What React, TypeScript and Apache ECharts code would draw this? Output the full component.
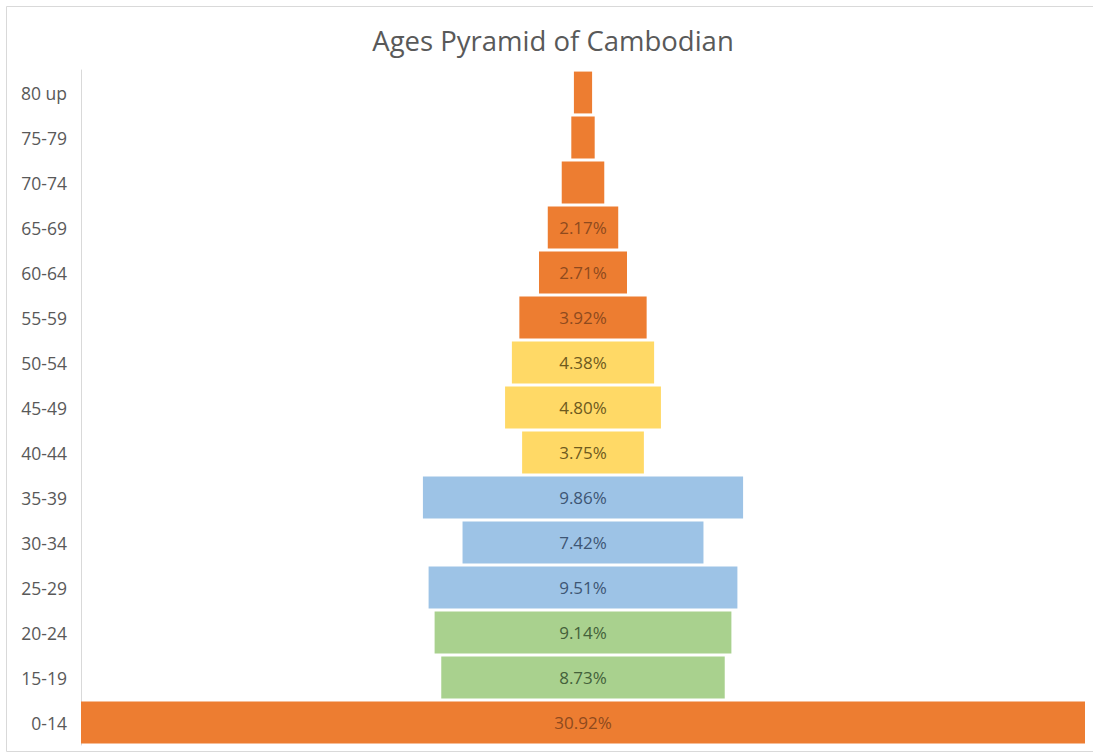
import React, { useEffect, useRef } from "react";
import * as echarts from "echarts";

// Age groups, bottom to top
const ageGroups = [
  "0-14", "15-19", "20-24", "25-29", "30-34", "35-39", "40-44", "45-49",
  "50-54", "55-59", "60-64", "65-69", "70-74", "75-79", "80 up",
];

// Share of population per age group (%)
const shares = [
  30.92, 8.73, 9.14, 9.51, 7.42, 9.86, 3.75, 4.8,
  4.38, 3.92, 2.71, 2.17, 1.31, 0.72, 0.56,
];

// Colour group per age group
const groups = [
  "child", "youth", "youth", "adult", "adult", "adult", "middle", "middle",
  "middle", "senior", "senior", "senior", "senior", "senior", "senior",
];

// Groups too narrow to carry a value label
const unlabelled = ["70-74", "75-79", "80 up"];

const palette: Record<string, { fill: string; text: string }> = {
  child: { fill: "#ED7D31", text: "#8E4A1E" },
  senior: { fill: "#ED7D31", text: "#8E4A1E" },
  middle: { fill: "#FFD966", text: "#6E5A1E" },
  adult: { fill: "#9DC3E6", text: "#3E5674" },
  youth: { fill: "#A9D18E", text: "#44613A" },
};

export default function App() {
  const ref = useRef<HTMLDivElement>(null);

  useEffect(() => {
    if (!ref.current) return;
    const chart = echarts.init(ref.current, undefined, { renderer: "svg" });
    const widest = Math.max(...shares);
    const offsets = shares.map((v) => (widest - v) / 2);

    chart.setOption({
      animation: false,
      backgroundColor: "#ffffff",
      textStyle: { fontFamily: "Open Sans" },
      title: {
        text: "Ages Pyramid of Cambodian",
        left: 548,
        top: 21,
        textAlign: "center",
        textStyle: {
          fontFamily: "Open Sans",
          fontSize: 27.5,
          fontWeight: "normal",
          color: "#595959",
        },
      },
      graphic: [
        {
          type: "rect",
          shape: { x: 6.5, y: 6.5, width: 1100, height: 745 },
          style: { fill: "none", stroke: "#d9d9d9", lineWidth: 1 },
          silent: true,
        },
      ],
      grid: { left: 81, right: 8, top: 70, bottom: 11 },
      xAxis: {
        type: "value",
        min: 0,
        max: widest,
        show: false,
      },
      yAxis: {
        type: "category",
        data: ageGroups,
        axisLine: { show: true, lineStyle: { color: "#d9d9d9", width: 1 } },
        axisTick: { show: false },
        axisLabel: {
          color: "#595959",
          fontSize: 17.5,
          fontFamily: "Open Sans",
          margin: 14,
        },
      },
      series: [
        {
          type: "bar",
          stack: "pyramid",
          data: offsets,
          itemStyle: { color: "transparent" },
          silent: true,
          barCategoryGap: "7%",
        },
        {
          type: "bar",
          stack: "pyramid",
          barCategoryGap: "7%",
          data: shares.map((v, i) => {
            const c = palette[groups[i]];
            return {
              value: v,
              itemStyle: { color: c.fill },
              label: {
                show: !unlabelled.includes(ageGroups[i]),
                color: c.text,
              },
            };
          }),
          label: {
            show: true,
            position: "inside",
            fontSize: 17,
            fontFamily: "Open Sans",
            formatter: (p: any) => `${Number(p.value).toFixed(2)}%`,
          },
        },
      ],
    });

    return () => chart.dispose();
  }, []);

  return (
    <div
      ref={ref}
      style={{ position: "absolute", left: 0, top: 0, width: 1093, height: 756 }}
    />
  );
}
